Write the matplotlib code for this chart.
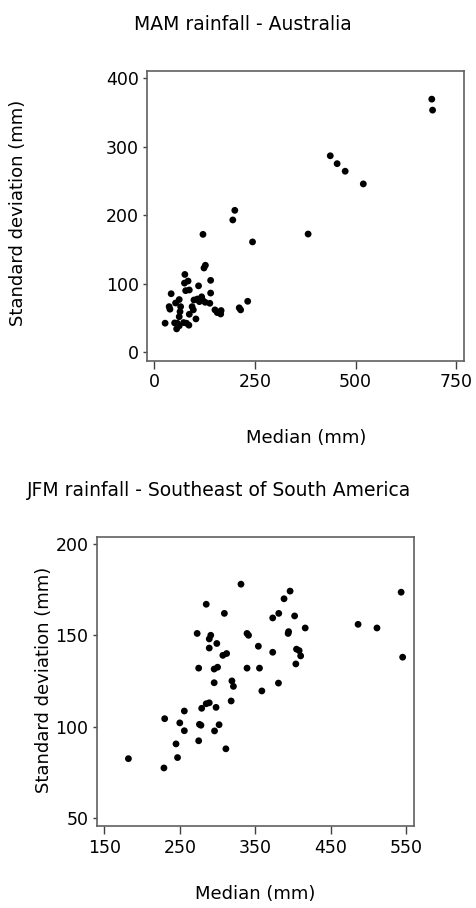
import numpy as np
from matplotlib import pyplot as plt

# MAM rainfall - Australia (median, standard deviation) in mm
aus_median = [689, 691, 437, 454, 474, 519, 382, 200, 195, 121, 244, 127, 123.5,
              76, 75, 84, 140, 110, 78, 87, 42, 140, 62, 53, 98.6, 107, 117.7,
              120, 112, 126.6, 138, 37, 39, 65.5, 94, 97, 64, 87, 62, 103.5,
              150.7, 156.5, 166, 165, 211, 214.5, 232, 27, 50.6, 57, 55.6, 62,
              73, 80, 86]
aus_sd = [369, 353, 286.5, 275, 264, 245.5, 172.5, 207, 193, 172, 161, 127, 123,
          113.6, 101, 104, 105, 97, 90, 91, 85.5, 86.5, 77, 72, 76.4, 77.8, 81,
          76.4, 74, 73, 71.6, 66.7, 63, 66.7, 66.7, 62, 59.4, 55.6, 52, 48.8,
          62, 58, 61, 56, 65, 62, 74.5, 42.6, 43, 42.6, 34.3, 38.7,
          43.5, 42.6, 39.7]

# JFM rainfall - Southeast of South America
ssa_median = [331, 285, 309, 273, 291, 289, 299, 289, 307, 312, 275, 295.5, 300,
              295.5, 319, 321, 318, 289, 285, 279, 298, 256, 230, 250, 256, 276,
              278, 302, 296, 245, 275, 311, 247, 182, 229, 339, 341, 354, 373,
              339, 355.5, 358.6, 380.6, 373, 381, 388, 396, 393.4, 394, 402, 416,
              404.5, 408, 410, 403.6, 486, 511, 543, 545]
ssa_sd = [178, 167, 162, 151, 150, 148, 145.5, 143, 139, 140, 132, 131.5, 132.5,
          124, 125, 122, 114, 113, 112.5, 110, 110.5, 108.5, 104.3, 102, 97.7,
          101.2, 100.7, 101, 97.6, 90.5, 92.2, 87.8, 83, 82.4, 77.3, 151, 150,
          144, 140.7, 132, 132, 119.5, 123.8, 159.5, 162, 170, 174.2, 151, 152,
          160.6, 154, 142.4, 141.6, 138.7, 134.3, 156, 154, 173.6, 138]

plt.rcParams['font.family'] = 'DejaVu Sans'
tick_fs = 12.5
lab_fs = 13
title_fs = 13.5

fig = plt.figure(figsize=(4.77, 9.08), dpi=100)

def style(ax):
    for s in ax.spines.values():
        s.set_color('#606060')
        s.set_linewidth(1.2)
    ax.tick_params(axis='x', length=6, width=1, color='#404040', labelsize=tick_fs, pad=3)
    ax.tick_params(axis='y', length=3, width=1, color='#404040', labelsize=tick_fs, pad=3)

ax1 = fig.add_axes([0.309, 0.6028, 0.6646, 0.319])
ax1.scatter(aus_median, aus_sd, s=24, color='black', edgecolors='none')
ax1.set_xlim(-17, 770)
ax1.set_ylim(-12, 410)
ax1.set_xticks([0, 250, 500, 750])
ax1.set_yticks([0, 100, 200, 300, 400])
ax1.set_xlabel('Median (mm)', fontsize=lab_fs)
ax1.set_ylabel('Standard deviation (mm)', fontsize=lab_fs)
ax1.xaxis.set_label_coords(0.5, -0.236)
ax1.yaxis.set_label_coords(-0.38, 0.51)
style(ax1)

ax2 = fig.add_axes([0.2027, 0.0903, 0.6652, 0.3186])
ax2.scatter(ssa_median, ssa_sd, s=24, color='black', edgecolors='none')
ax2.set_xlim(140, 560)
ax2.set_ylim(45.5, 204)
ax2.set_xticks([150, 250, 350, 450, 550])
ax2.set_yticks([50, 100, 150, 200])
ax2.set_xlabel('Median (mm)', fontsize=lab_fs)
ax2.set_ylabel('Standard deviation (mm)', fontsize=lab_fs)
ax2.xaxis.set_label_coords(0.5, -0.205)
ax2.yaxis.set_label_coords(-0.138, 0.505)
style(ax2)

fig.text(242.5 / 477, 1 - 25 / 908, 'MAM rainfall - Australia', fontsize=title_fs,
         ha='center', va='center')
fig.text(219 / 477, 1 - 490 / 908, 'JFM rainfall - Southeast of South America',
         fontsize=title_fs, ha='center', va='center')

fig.savefig('out.png', dpi=100)
